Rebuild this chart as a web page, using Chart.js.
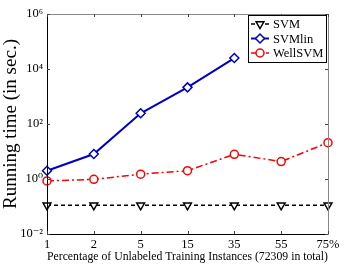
<!DOCTYPE html>
<html>
<head>
<meta charset="utf-8">
<script src="https://cdn.jsdelivr.net/npm/chart.js@4.4.1/dist/chart.umd.min.js"></script>
<style>
  html, body { margin: 0; padding: 0; background: #fff; }
  #wrap { width: 346px; height: 264px; }
</style>
</head>
<body>
<div id="wrap"><canvas id="grafica" width="346" height="264"></canvas></div>
<script>
const categorias = ['1', '2', '5', '15', '35', '55', '75%'];
const svm = [0.11, 0.11, 0.11, 0.11, 0.11, 0.11, 0.11];
const svmlin = [2.0, 8.1, 245, 2150, 25000, null, null];
const wellsvm = [0.85, 0.97, 1.5, 2.0, 7.9, 4.3, 21];
const ticksY = [1e-2, 1, 1e2, 1e4, 1e6];
const supers = { '-': '\u207B', '0': '\u2070', '1': '\u00B9', '2': '\u00B2', '3': '\u00B3', '4': '\u2074', '5': '\u2075', '6': '\u2076' };

const serif = '"Liberation Serif", "DejaVu Serif", serif';

// marco estilo matlab con ticks hacia dentro + leyenda dentro del area
const marco = {
    id: 'marco',
    afterDatasetsDraw(chart) {
        const { ctx, chartArea: a, scales } = chart;
        ctx.save();
        ctx.lineWidth = 1;
        ctx.strokeStyle = '#888';
        ctx.beginPath();
        ctx.moveTo(a.left, a.top + 0.5); ctx.lineTo(a.right + 0.5, a.top + 0.5);
        ctx.lineTo(a.right + 0.5, a.bottom);
        ctx.stroke();
        ctx.strokeStyle = '#000';
        ctx.beginPath();
        ctx.moveTo(a.left + 0.5, a.top); ctx.lineTo(a.left + 0.5, a.bottom + 0.5);
        ctx.lineTo(a.right + 0.5, a.bottom + 0.5);
        ctx.stroke();
        // ticks
        ctx.strokeStyle = '#444';
        ctx.beginPath();
        categorias.forEach((c, i) => {
            const x = Math.round(scales.x.getPixelForValue(i)) + 0.5;
            ctx.moveTo(x, a.bottom); ctx.lineTo(x, a.bottom - 3);
            ctx.moveTo(x, a.top); ctx.lineTo(x, a.top + 3);
        });
        ticksY.forEach(v => {
            const y = Math.round(scales.y.getPixelForValue(v)) + 0.5;
            ctx.moveTo(a.left, y); ctx.lineTo(a.left + 3, y);
            ctx.moveTo(a.right, y); ctx.lineTo(a.right - 3, y);
        });
        ctx.stroke();

        // leyenda
        const bx = 248, by = 15, bw = 78, bh = 47;
        ctx.fillStyle = '#fff';
        ctx.fillRect(bx, by, bw, bh);
        ctx.strokeStyle = '#000';
        ctx.strokeRect(bx + 0.5, by + 0.5, bw, bh);
        ctx.font = '12.5px ' + serif;
        ctx.textBaseline = 'middle';
        chart.data.datasets.forEach((ds, i) => {
            const y = by + 9 + i * 14.5;
            ctx.save();
            ctx.strokeStyle = ds.borderColor;
            ctx.lineWidth = ds.borderWidth;
            ctx.setLineDash(ds.borderDash || []);
            ctx.beginPath();
            ctx.moveTo(bx + 3, y); ctx.lineTo(bx + 21, y);
            ctx.stroke();
            ctx.setLineDash([]);
            ctx.fillStyle = '#fff';
            ctx.lineWidth = ds.pointBorderWidth;
            Chart.helpers.drawPoint(ctx, {
                pointStyle: ds.pointStyle,
                rotation: ds.pointRotation || 0,
                radius: ds.pointRadius,
                borderWidth: ds.pointBorderWidth
            }, bx + 12, y);
            ctx.restore();
            ctx.fillStyle = '#000';
            ctx.fillText(ds.label, bx + 25, y + 1);
        });
        ctx.restore();
    }
};

new Chart(document.querySelector('#grafica'), {
    type: 'line',
    data: {
        labels: categorias,
        datasets: [{
            label: 'SVM',
            data: svm,
            borderColor: '#000',
            backgroundColor: '#fff',
            borderWidth: 1.5,
            borderDash: [4, 3],
            pointStyle: 'triangle',
            pointRotation: 180,
            pointRadius: 4.5,
            pointBorderWidth: 1.5,
            clip: false
        }, {
            label: 'SVMlin',
            data: svmlin,
            borderColor: '#0000c0',
            backgroundColor: '#fff',
            borderWidth: 2,
            pointStyle: 'rectRot',
            pointRadius: 4.5,
            pointBorderWidth: 1.5,
            clip: false
        }, {
            label: 'WellSVM',
            data: wellsvm,
            borderColor: '#ff0000',
            backgroundColor: '#fff',
            borderWidth: 1.5,
            borderDash: [7, 3, 2, 3],
            pointStyle: 'circle',
            pointRadius: 4,
            pointBorderWidth: 1.5,
            clip: false
        }]
    },
    options: {
        responsive: false,
        animation: false,
        events: [],
        layout: { padding: { top: 14, right: 18, left: 0, bottom: 0 } },
        scales: {
            x: {
                type: 'category',
                offset: false,
                grid: { display: false, drawTicks: false },
                border: { display: false },
                ticks: { color: '#000', font: { family: serif, size: 12.5 }, padding: 3, maxRotation: 0, autoSkip: false },
                title: {
                    display: true,
                    text: 'Percentage of Unlabeled Training Instances (72309 in total)',
                    color: '#000',
                    font: { family: serif, size: 12.5 },
                    padding: { top: 0, bottom: 0 }
                },
                afterFit: s => { s.height = 30; }
            },
            y: {
                type: 'logarithmic',
                min: 1e-2,
                max: 1e6,
                grid: { display: false, drawTicks: false },
                border: { display: false },
                afterBuildTicks: s => { s.ticks = ticksY.map(v => ({ value: v })); },
                ticks: {
                    color: '#000',
                    font: { family: serif, size: 12.5 },
                    padding: 4,
                    callback: v => '10' + String(Math.round(Math.log10(v))).split('').map(c => supers[c]).join('')
                },
                title: {
                    display: true,
                    text: 'Running time (in sec.)',
                    color: '#000',
                    font: { family: serif, size: 19 },
                    padding: { top: 0, bottom: 0 }
                },
                afterFit: s => { s.width = 47; }
            }
        },
        plugins: {
            legend: { display: false },
            tooltip: { enabled: false }
        }
    },
    plugins: [marco]
});
</script>
</body>
</html>
